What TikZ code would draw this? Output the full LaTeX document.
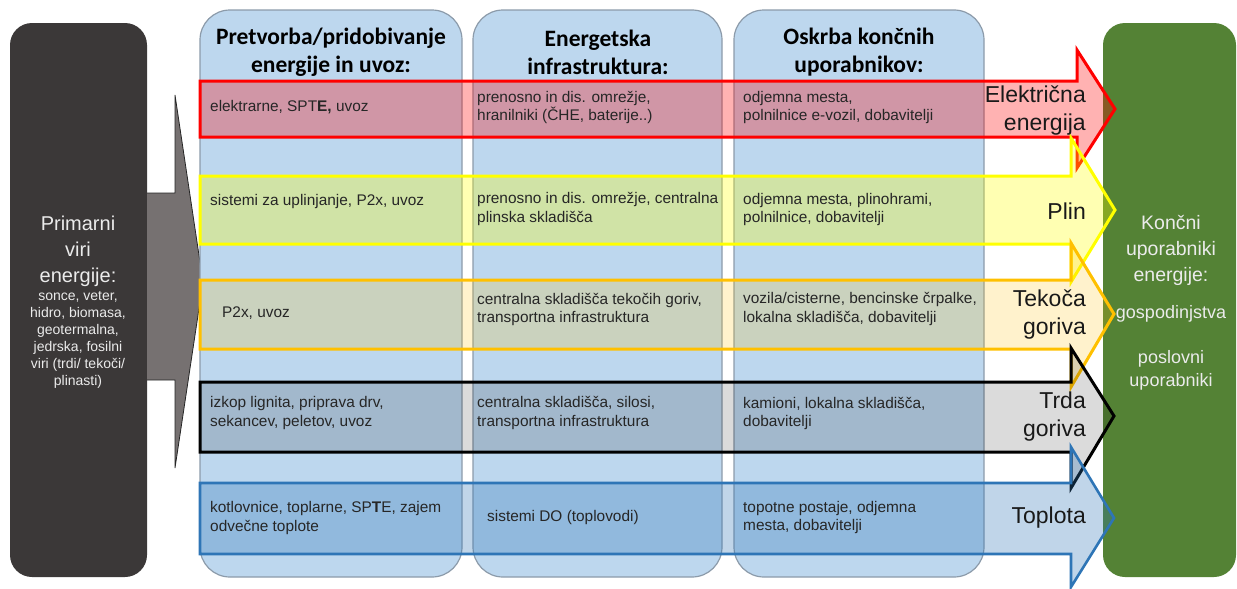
\documentclass[tikz,border=0pt]{standalone}
\usepackage{fontspec}
\setmainfont{Liberation Sans}
\newfontfamily\headfont{Carlito}
\usetikzlibrary{positioning}

\definecolor{colblue}{HTML}{BDD7EE}
\definecolor{colline}{HTML}{8C9BAA}
\definecolor{primgray}{HTML}{3B3838}
\definecolor{arrowgray}{HTML}{767171}
\definecolor{endgreen}{HTML}{548235}
\definecolor{elred}{HTML}{FF0000}
\definecolor{gasyellow}{HTML}{FFFF00}
\definecolor{liqorange}{HTML}{FFC000}
\definecolor{heatblue}{HTML}{2E75B6}

\tikzset{
  colbox/.style={draw=colline, line width=1.2pt, fill=colblue, rounded corners=30pt, inner sep=0pt},
  sidebox/.style={rounded corners=22pt, inner sep=0pt, minimum height=554pt},
  band/.style={line width=3pt, line join=miter, fill opacity=0.3},
  coltext/.style={anchor=west, align=left, inner sep=0pt, text=black!85,
    font=\fontsize{15.4}{18.5}\selectfont},
  bandlabel/.style={anchor=east, align=right, inner sep=0pt, text=black!90,
    font=\fontsize{23}{28}\selectfont},
  headtext/.style={align=center, inner sep=0pt, font=\headfont\bfseries\fontsize{23.5}{28}\selectfont},
  whitetext/.style={align=center, inner sep=0pt, text=white!92!black}
}

\begin{document}
\begin{tikzpicture}[x=1pt, y=-1pt]
\useasboundingbox (0,0) rectangle (1237,589);

% primarni viri
\node[sidebox, fill=primgray, minimum width=137pt] (prim) at (78.5,300) {};
\node[whitetext, font=\fontsize{20}{26}\selectfont] (primtit) at (78,251) {Primarni\\viri\\energije:};
\node[whitetext, font=\fontsize{14}{17}\selectfont] (primsrc) at (78,340)
  {sonce, veter,\\hidro, biomasa,\\geotermalna,\\jedrska, fosilni\\viri (trdi/ tekoči/\\plinasti)};

% siva puscica
\draw[fill=arrowgray, draw=black!85, line width=0.8pt]
  (147,193) -- (175,193) -- (175,95) -- (203,282) -- (175,468) -- (175,380) -- (147,380);

% stolpci
\node[colbox, minimum width=262pt, minimum height=567pt] (col1) at (331,293.5) {};
\node[colbox, minimum width=249pt, minimum height=567pt] (col2) at (597.5,293.5) {};
\node[colbox, minimum width=250pt, minimum height=567pt] (col3) at (859,293.5) {};

\node[headtext] (h1) at (331,52) {Pretvorba/pridobivanje\\energije in uvoz:};
\node[headtext] (h2) at (598,52) {Energetska\\infrastruktura:};
\node[headtext] (h3) at (859,52) {Oskrba končnih\\uporabnikov:};

% koncni uporabniki
\node[sidebox, fill=endgreen, minimum width=133pt] (endu) at (1169.5,300) {};
\node[whitetext, font=\fontsize{19.5}{26}\selectfont] (endtit) at (1171,250) {Končni\\uporabniki\\energije:};
\node[whitetext, font=\fontsize{18}{23}\selectfont] (gosp) at (1171,314) {gospodinjstva};
\node[whitetext, font=\fontsize{18}{23}\selectfont] (posl) at (1171,370) {poslovni\\uporabniki};

% puscice energentov
\draw[band, draw=elred, fill=elred]
  (200,81) -- (1077,81) -- (1077,50) -- (1115,109) -- (1077,168) -- (1077,137) -- (200,137) -- cycle;
\draw[band, draw=gasyellow, fill=gasyellow]
  (200,176) -- (1071,176) -- (1071,138) -- (1115,210) -- (1071,282) -- (1071,244) -- (200,244) -- cycle;
\draw[band, draw=liqorange, fill=liqorange, fill opacity=0.2]
  (200,280) -- (1071,280) -- (1071,243) -- (1114,314) -- (1071,387) -- (1071,349) -- (200,349) -- cycle;
\draw[band, draw=black, fill=black, fill opacity=0.14]
  (200,382) -- (1071,382) -- (1071,348) -- (1114,416) -- (1071,488) -- (1071,452) -- (200,452) -- cycle;
\draw[band, draw=heatblue, fill=heatblue, line width=2.6pt]
  (200,483) -- (1071,483) -- (1071,447) -- (1114,518) -- (1071,587) -- (1071,554) -- (200,554) -- cycle;

% besedila
\node[coltext] (e1) at (210,107) {elektrarne, SPT\textbf{E,} uvoz};
\node[coltext] (e2) at (477,107.5) {prenosno in dis. omrežje,\\hranilniki (ČHE, baterije..)};
\node[coltext] (e3) at (743,107.5) {odjemna mesta,\\polnilnice e-vozil, dobavitelji};
\node[bandlabel] (le) at (1086,111) {Električna\\energija};

\node[coltext] (p1) at (210,202) {sistemi za uplinjanje, P2x, uvoz};
\node[coltext] (p2) at (477,209) {prenosno in dis. omrežje, centralna\\plinska skladišča};
\node[coltext] (p3) at (743,209.5) {odjemna mesta, plinohrami,\\polnilnice, dobavitelji};
\node[bandlabel] (lp) at (1086,211) {Plin};

\node[coltext] (t1) at (222,313) {P2x, uvoz};
\node[coltext] (t2) at (477,309.5) {centralna skladišča tekočih goriv,\\transportna infrastruktura};
\node[coltext] (t3) at (743,309) {vozila/cisterne, bencinske črpalke,\\lokalna skladišča, dobavitelji};
\node[bandlabel] (lt) at (1086,315) {Tekoča\\goriva};

\node[coltext] (s1) at (210,413) {izkop lignita, priprava drv,\\sekancev, peletov, uvoz};
\node[coltext] (s2) at (477,413) {centralna skladišča, silosi,\\transportna infrastruktura};
\node[coltext] (s3) at (743,413.5) {kamioni, lokalna skladišča,\\dobavitelji};
\node[bandlabel] (ls) at (1086,417) {Trda\\goriva};

\node[coltext] (o1) at (210,518) {kotlovnice, toplarne, SP\textbf{T}E, zajem\\odvečne toplote};
\node[coltext] (o2) at (487,518) {sistemi DO (toplovodi)};
\node[coltext] (o3) at (743,517.5) {topotne postaje, odjemna\\mesta, dobavitelji};
\node[bandlabel] (lo) at (1086,518) {Toplota};
\end{tikzpicture}
\end{document}
